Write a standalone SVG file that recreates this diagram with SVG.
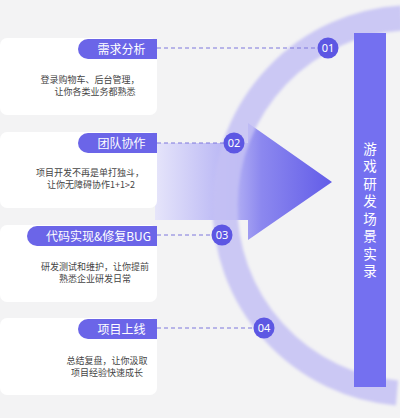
<svg xmlns="http://www.w3.org/2000/svg" width="400" height="418" viewBox="0 0 400 418">
<defs>
<style>
.card{fill:#ffffff}
.pill{fill:#6b65e8}
.pt{font-family:"Noto Sans CJK SC","Noto Sans",sans-serif;font-size:12px;fill:#ffffff;text-anchor:middle}
.dt{font-family:"Noto Sans CJK SC","Noto Sans",sans-serif;font-size:9px;fill:#444444;text-anchor:middle}
.dash{stroke:#7c77dc;stroke-width:1;stroke-dasharray:4 3;fill:none}
.num{fill:#5d57e3}
.nt{font-family:"Noto Sans","Liberation Sans",sans-serif;font-size:11px;fill:#ffffff;text-anchor:middle}
.vt{font-family:"Noto Sans CJK SC",sans-serif;font-size:13.5px;fill:#ffffff;text-anchor:middle;writing-mode:vertical-rl;letter-spacing:4px}
</style>
<linearGradient id="ag" x1="155" y1="0" x2="332" y2="0" gradientUnits="userSpaceOnUse">
<stop offset="0" stop-color="#e6e5fa"/>
<stop offset="0.45" stop-color="#b3b0f4"/>
<stop offset="0.6" stop-color="#8c88ef"/>
<stop offset="1" stop-color="#625ce8"/>
</linearGradient>
<filter id="blur" x="-20%" y="-20%" width="140%" height="140%">
<feGaussianBlur stdDeviation="1.8"/>
</filter>
</defs>
<rect width="400" height="418" fill="#f3f3f4"/>

<g id="arrow">
<polygon points="155,143 248,143 248,123 332,182 248,240 248,220 155,220" fill="url(#ag)"/>
</g>
<g id="arc">
<path d="M 402 18 A 188 188 0 0 0 397 393" fill="none" stroke="#c4c1f4" stroke-opacity="0.85" stroke-width="25" filter="url(#blur)"/>
</g>

<g id="title-bar">
<rect x="354" y="33" width="32" height="354" fill="#7470f0"/>
<text class="vt" x="370" y="212">游戏研发场景实录</text>
</g>

<g id="connectors">
<line class="dash" x1="157" y1="48" x2="318" y2="48"/>
<line class="dash" x1="157" y1="143" x2="224" y2="143"/>
<line class="dash" x1="157" y1="235" x2="212" y2="235"/>
<line class="dash" x1="157" y1="328" x2="254" y2="328"/>
</g>

<g id="card1">
<rect class="card" x="0" y="38" width="157" height="77" rx="7"/>
<path class="pill" d="M157,39 H88 A10,10 0 0 0 88,59 H157 Z"/>
<text class="pt" x="121.5" y="53.5">需求分析</text>
<text class="dt"><tspan x="90" y="82.5">登录购物车、后台管理，</tspan><tspan x="95" y="95">让你各类业务都熟悉</tspan></text>
</g>
<g id="card2">
<rect class="card" x="0" y="132" width="157" height="76" rx="7"/>
<path class="pill" d="M157,133 H88 A10,10 0 0 0 88,153 H157 Z"/>
<text class="pt" x="121.5" y="147.5">团队协作</text>
<text class="dt"><tspan x="90" y="175.5">项目开发不再是单打独斗，</tspan><tspan x="91" y="187.5">让你无障碍协作1+1&gt;2</tspan></text>
</g>
<g id="card3">
<rect class="card" x="0" y="225" width="157" height="77" rx="7"/>
<path class="pill" d="M157,226 H37 A10,10 0 0 0 37,246 H157 Z"/>
<text class="pt" x="98.5" y="240.5">代码实现&amp;修复BUG</text>
<text class="dt"><tspan x="95" y="270">研发测试和维护，让你提前</tspan><tspan x="95" y="281.5">熟悉企业研发日常</tspan></text>
</g>
<g id="card4">
<rect class="card" x="0" y="318" width="157" height="77" rx="7"/>
<path class="pill" d="M157,319 H88 A10,10 0 0 0 88,339 H157 Z"/>
<text class="pt" x="121.5" y="333.5">项目上线</text>
<text class="dt"><tspan x="107" y="363.5">总结复盘，让你汲取</tspan><tspan x="107" y="375.5">项目经验快速成长</tspan></text>
</g>

<g id="n01"><circle class="num" cx="328" cy="48" r="10.5"/><text class="nt" x="328" y="52">01</text></g>
<g id="n02"><circle class="num" cx="234" cy="143" r="10.5"/><text class="nt" x="234" y="147">02</text></g>
<g id="n03"><circle class="num" cx="222" cy="235" r="10.5"/><text class="nt" x="222" y="239">03</text></g>
<g id="n04"><circle class="num" cx="264" cy="328" r="10.5"/><text class="nt" x="264" y="332">04</text></g>
</svg>
